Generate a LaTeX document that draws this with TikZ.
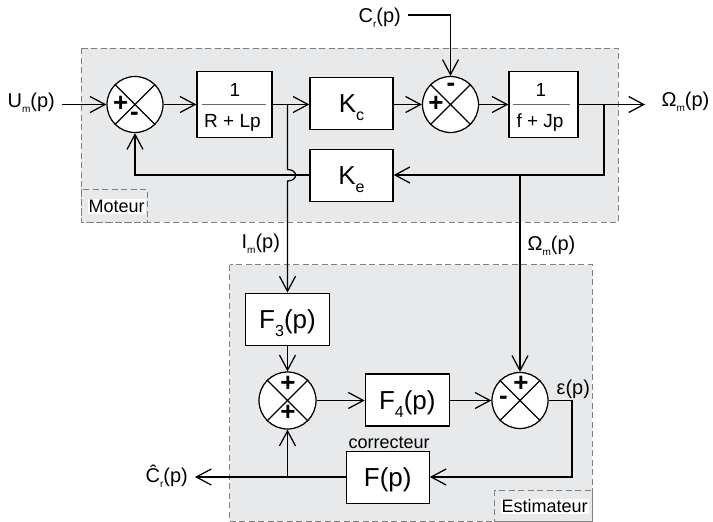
\documentclass[tikz,border=0pt]{standalone}
\usepackage{fontspec}
\setmainfont{Liberation Sans}
\usetikzlibrary{arrows.meta,calc}
\definecolor{bg}{HTML}{E8E9EB}
\definecolor{dashc}{HTML}{808080}
\newcommand\lsub[1]{\raisebox{-5pt}{\fontsize{10}{10}\selectfont #1}}
\newcommand\bsub[1]{\raisebox{-8pt}{\fontsize{16}{16}\selectfont #1}}
\begin{document}
\begin{tikzpicture}[x=1pt,y=-1pt,line width=1.25pt,
  arr/.style={-{Straight Barb[length=15pt,width=16pt]}},
  blk/.style={draw,fill=white,inner sep=0pt,text height=18.4pt,text depth=0pt,font=\fontsize{26}{26}\selectfont},
  fblk/.style={draw,fill=white,inner sep=0pt},
  sumc/.style={draw,fill=white,circle,minimum size=56pt,inner sep=0pt},
  lab/.style={anchor=base west,inner sep=0pt,font=\fontsize{20}{20}\selectfont},
  frac/.style={anchor=base,inner sep=0pt,font=\fontsize{19}{19}\selectfont},
  sml/.style={anchor=base west,inner sep=0pt,font=\fontsize{18}{18}\selectfont},
  sgn/.style={inner sep=0pt,font=\fontsize{26}{26}\bfseries\selectfont},
  zone/.style={draw=dashc,fill=bg,line width=0.8pt,dash pattern=on 6pt off 3.5pt},
  zlab/.style={draw=dashc,line width=0.8pt,dash pattern=on 6pt off 3.5pt},
  fline/.style={line width=0.9pt,draw=black!60}]
\useasboundingbox (0,0) rectangle (713,522);
% zones
\draw[zone] (81,48) rectangle (618,222);
\draw[zlab] (81,189) rectangle (147,222);
\node[sml,fill=white,inner sep=1pt] (moteur) at (87,212.5) {Moteur};
\draw[zone] (229.5,264.5) rectangle (592,521);
\draw[zlab] (494,490) rectangle (592,521);
\node[sml,fill=white,inner sep=1pt] (estim) at (500,512.7) {Estimateur};

% Moteur blocks
\node[sumc] (S1) at (135,104.5) {};
\node[fblk,minimum width=75pt,minimum height=66pt] (B1) at (234.5,104.5) {};
\node[frac] (B1n) at (235,96.7) {1};
\node[frac] (B1d) at (232.5,127.3) {R + Lp};
\draw[fline] (202,104.3) -- (266,104.3);
\node[blk,minimum width=83pt,minimum height=51.5pt] (Kc) at (351.5,103.5) {K\bsub{c}};
\node[blk,minimum width=83pt,minimum height=52pt] (Ke) at (351.5,175.5) {K\bsub{e}};
\node[sumc] (S2) at (450.5,104.5) {};
\node[fblk,minimum width=69pt,minimum height=66pt] (B2) at (543.5,104.5) {};
\node[frac] (B2n) at (541,96.7) {1};
\node[frac] (B2d) at (540,127.3) {f + Jp};
\draw[fline] (513.3,104.3) -- (570,104.3);

% labels
\node[lab] (Um) at (7,107.5) {U\lsub{m}(p)};
\node[lab] (Om) at (661,106) {Ω\lsub{m}(p)};
\node[lab] (Cr) at (358,23) {C\lsub{r}(p)};
\node[lab] (Im) at (241,248.5) {I\lsub{m}(p)};
\node[lab] (Om2) at (527,250) {Ω\lsub{m}(p)};
\node[lab] (eps) at (556,394.5) {ε(p)};
\node[lab] (Crh) at (145,482.5) {Ĉ\lsub{r}(p)};
\node[sml] (corr) at (348,448.5) {correcteur};

% Estimateur blocks
\node[blk,minimum width=84pt,minimum height=52pt] (F3) at (287.5,319.2) {F\bsub{3}(p)};
\node[sumc,minimum size=57pt] (S3) at (287.5,400.5) {};
\node[blk,minimum width=84pt,minimum height=52pt] (F4) at (407.3,400) {F\bsub{4}(p)};
\node[sumc] (S4) at (520,400.5) {};
\node[blk,minimum width=83pt,minimum height=52pt] (F) at (387.7,477.5) {F(p)};

% crosses
\foreach \s in {S1,S2,S3,S4}{
  \draw (\s.north west) -- (\s.south east) (\s.north east) -- (\s.south west);
}
% signs
\node[sgn] (s1p) at (120.7,103.5) {+};
\node[sgn] (s1m) at (134.5,116) {-};
\node[sgn] (s2p) at (436,103.5) {+};
\node[sgn] (s2m) at (451,87) {-};
\node[sgn] (s3p) at (288,384) {+};
\node[sgn] (s3q) at (288,413) {+};
\node[sgn] (s4p) at (521,384) {+};
\node[sgn] (s4m) at (503.5,400) {-};

% coordinates
\coordinate (umin) at (62,104.5);
\coordinate (out) at (645,104.5);
\coordinate (brR) at (604,104.5);
\coordinate (brR2) at (604,175);
\coordinate (brL) at (287.5,104.5);
\coordinate (fbL) at (135,175);
\coordinate (om) at (520,175);
\coordinate (crs) at (408,15);
\coordinate (crc) at (450.5,15);
\coordinate (e1) at (572,400.5);
\coordinate (e2) at (572,477);
\coordinate (chat) at (195,477);
\coordinate (jn) at (287.5,477);

% connectors
\draw[arr] (umin) -- (S1.west);
\draw[arr] (S1.east) -- (B1.west);
\draw[arr] (B1.east) -- (Kc.west |- B1.east);
\draw[arr] (Kc.east |- S2.west) -- (S2.west);
\draw[arr] (S2.east) -- (B2.west);
\draw[arr] (B2.east) -- (out);
\draw[arr] (brR) -- (brR2) -- (Ke.east |- brR2);
\draw[arr] (Ke.west |- fbL) -- (fbL) -- (S1.south);
\draw[arr] (crs) -- (crc) -- (S2.north);
\draw[arr] (brL) -- (287.5,169.5) .. controls (298.2,169.5) and (298.2,181) .. (287.5,181) -- (F3.north);
\draw[arr] (F3.south) -- (S3.north);
\draw[arr] (S3.east) -- (F4.west |- S3.east);
\draw[arr] (F4.east |- S4.west) -- (S4.west);
\draw[arr] (om) -- (S4.north);
\draw[arr] (S4.east) -- (e1) -- (e2) -- (F.east |- e2);
\draw[arr] (F.west |- e2) -- (chat);
\draw[arr] (jn) -- (S3.south);
\end{tikzpicture}
\end{document}
